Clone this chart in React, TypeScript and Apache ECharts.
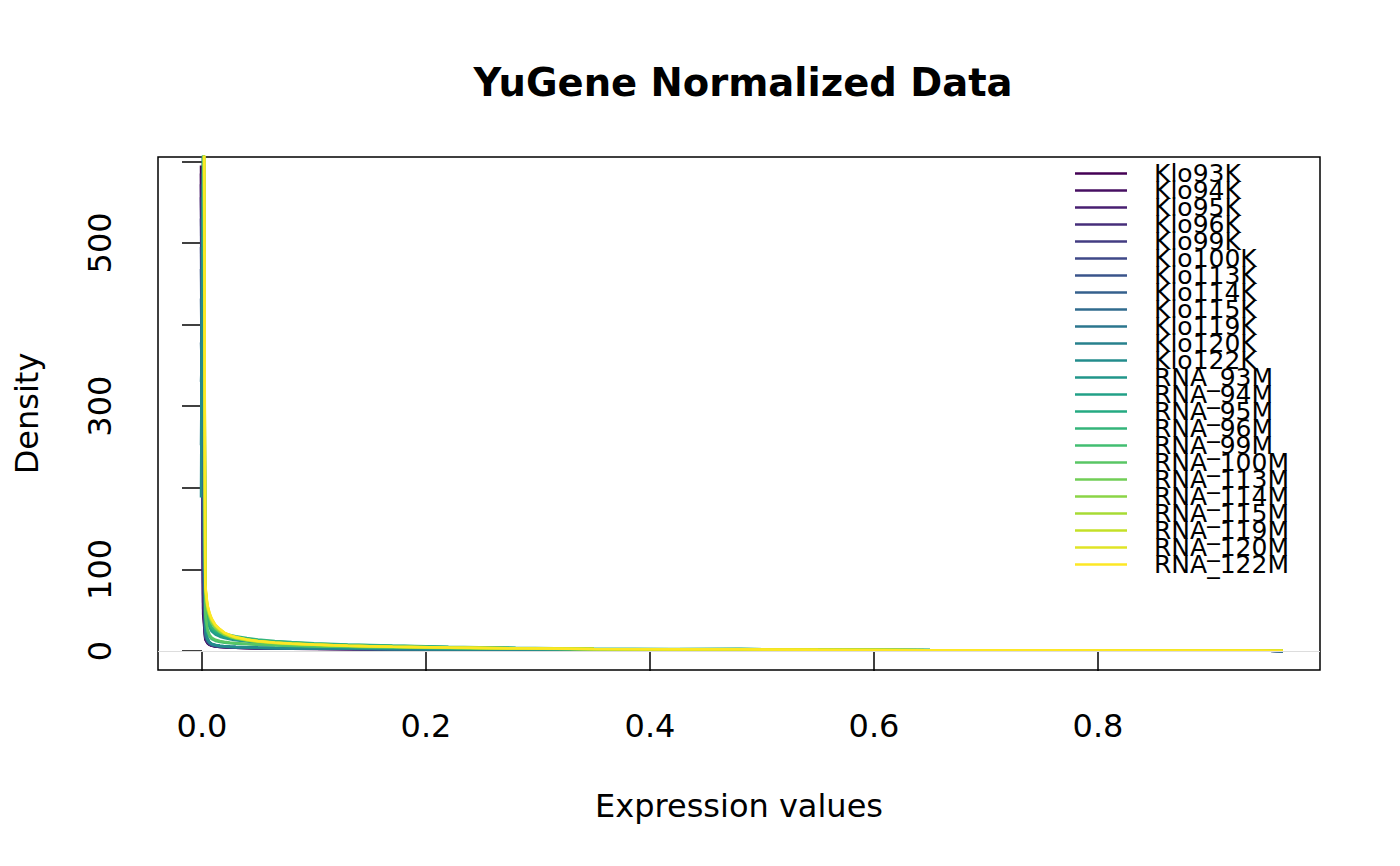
import React, { useEffect, useRef } from "react";
import * as echarts from "echarts";

const X_GRID = [-0.0009, 0.001, 0.0029, 0.0048, 0.0067, 0.0086, 0.012, 0.016, 0.02, 0.025, 0.03, 0.04, 0.05, 0.065, 0.08, 0.1, 0.13, 0.17, 0.22, 0.28, 0.35, 0.42, 0.48, 0.55, 0.65, 0.75, 0.85, 0.93, 0.965];

const SAMPLE_NAMES = ["Klo93K", "Klo94K", "Klo95K", "Klo96K", "Klo99K", "Klo100K", "Klo113K", "Klo114K", "Klo115K", "Klo119K", "Klo120K", "Klo122K", "RNA_93M", "RNA_94M", "RNA_95M", "RNA_96M", "RNA_99M", "RNA_100M", "RNA_113M", "RNA_114M", "RNA_115M", "RNA_119M", "RNA_120M", "RNA_122M"];

const COLORS = ["#440154", "#470F62", "#481F71", "#462E7A", "#433C82", "#3F4988", "#3A548B", "#35608D", "#306B8E", "#2B768E", "#27818D", "#238C8C", "#21968A", "#22A087", "#25AA82", "#34B47A", "#42BE71", "#59C664", "#71CE56", "#8BD546", "#A7DB34", "#C4E027", "#E0E426", "#FDE725"];

const Klo93K = [595, 45, 14, 9.5, 7.4, 6.3, 5.4, 4.9, 4.5, 4.2, 3.9, 3.5, 3.2, 2.9, 2.7, 2.5, 2.2, 1.9, 1.6, 1.3, 1.0, 0.9, 1.0, 0.7, 0.5, 0.4, 0.35, 0.3, 0.1];
const Klo94K = [585, 52, 15, 10, 7.8, 6.6, 5.6, 5.0, 4.6, 4.3, 4.0, 3.6, 3.3, 3.0, 2.8, 2.6, 2.3, 2.0, 1.7, 1.4, 1.1, 1.0, 1.1, 0.8, 0.6, 0.45, 0.4, 0.3, 0.1];
const Klo95K = [572, 60, 16, 10.5, 8.1, 6.8, 5.8, 5.2, 4.8, 4.4, 4.1, 3.7, 3.4, 3.1, 2.9, 2.7, 2.4, 2.1, 1.8, 1.4, 1.1, 1.0, 1.1, 0.8, 0.6, 0.45, 0.4, 0.3, 0.1];
const Klo96K = [556, 70, 17, 11, 8.5, 7.1, 6.0, 5.4, 5.0, 4.6, 4.3, 3.9, 3.5, 3.2, 3.0, 2.8, 2.5, 2.2, 1.8, 1.5, 1.2, 1.0, 1.1, 0.8, 0.6, 0.5, 0.4, 0.3, 0.1];
const Klo99K = [530, 85, 18, 11.5, 8.8, 7.3, 6.2, 5.5, 5.1, 4.7, 4.4, 4.0, 3.6, 3.3, 3.1, 2.9, 2.6, 2.2, 1.9, 1.5, 1.2, 1.1, 1.2, 0.9, 0.6, 0.5, 0.4, 0.35, 0.1];
const Klo100K = [495, 110, 19, 12, 9.0, 7.5, 6.3, 5.6, 5.2, 4.8, 4.5, 4.1, 3.7, 3.4, 3.1, 2.9, 2.6, 2.3, 1.9, 1.6, 1.2, 1.1, 1.2, 0.9, 0.6, 0.5, 0.4, 0.35, 0.1];
const Klo113K = [468, 150, 20, 12.5, 9.3, 7.7, 6.5, 5.8, 5.3, 4.9, 4.6, 4.2, 3.8, 3.5, 3.2, 3.0, 2.7, 2.3, 2.0, 1.6, 1.3, 1.1, 1.2, 0.9, 0.6, 0.5, 0.4, 0.35, 0.1];
const Klo114K = [432, 210, 21, 13, 9.6, 7.9, 6.6, 5.9, 5.4, 5.0, 4.7, 4.3, 3.9, 3.5, 3.3, 3.0, 2.7, 2.4, 2.0, 1.6, 1.3, 1.1, 1.2, 0.9, 0.7, 0.5, 0.4, 0.35, 0.1];
const Klo115K = [378, 290, 22, 13.5, 9.9, 8.1, 6.8, 6.0, 5.5, 5.1, 4.8, 4.3, 3.9, 3.6, 3.3, 3.1, 2.8, 2.4, 2.0, 1.7, 1.3, 1.2, 1.3, 0.9, 0.7, 0.5, 0.45, 0.35, 0.1];
const Klo119K = [330, 400, 24, 14, 10.2, 8.3, 7.0, 6.2, 5.7, 5.2, 4.9, 4.4, 4.0, 3.6, 3.4, 3.1, 2.8, 2.5, 2.1, 1.7, 1.3, 1.2, 1.3, 0.9, 0.7, 0.5, 0.45, 0.35, 0.1];
const Klo120K = [252, 560, 27, 15, 10.6, 8.6, 7.2, 6.4, 5.8, 5.3, 5.0, 4.5, 4.1, 3.7, 3.4, 3.2, 2.9, 2.5, 2.1, 1.7, 1.4, 1.2, 1.3, 1.0, 0.7, 0.55, 0.45, 0.35, 0.1];
const Klo122K = [188, 720, 30, 16, 11, 8.9, 7.4, 6.5, 5.9, 5.4, 5.1, 4.6, 4.2, 3.8, 3.5, 3.2, 2.9, 2.5, 2.1, 1.7, 1.4, 1.2, 1.3, 1.0, 0.7, 0.55, 0.45, 0.35, 0.1];
const RNA_93M = [null, 760, 62, 38, 29, 24, 20, 17.5, 15.8, 14.3, 13.2, 11.6, 10.4, 9.2, 8.3, 7.4, 6.3, 5.3, 4.3, 3.3, 2.4, 2.0, 2.2, 1.5, 1.0, 0.8, 0.7, 0.6, 0.2];
const RNA_94M = [null, 800, 66, 40, 31, 25.5, 21.5, 19, 17.2, 15.6, 14.4, 12.6, 11.3, 10, 9, 8, 6.8, 5.7, 4.6, 3.5, 2.5, 2.1, 2.3, 1.6, 1.1, 0.85, 0.7, 0.6, 0.2];
const RNA_95M = [null, 850, 70, 43, 33, 27.5, 23.5, 21, 19.5, 18, 16.5, 14.5, 13, 11.5, 10.3, 9, 7.6, 6.3, 5.0, 3.8, 2.7, 2.2, 2.4, 1.7, 1.1, 0.9, 0.75, 0.6, 0.2];
const RNA_96M = [null, 880, 72, 45, 35, 29, 25, 22.5, 21, 19.5, 18, 15.8, 14, 12.3, 11, 9.6, 8, 6.6, 5.2, 3.9, 2.8, 2.3, 2.5, 1.7, 1.2, 0.9, 0.75, 0.6, 0.2];
const RNA_99M = [null, 820, 42, 24, 17.5, 14.5, 12.3, 11, 10.2, 9.5, 9, 8.2, 7.5, 6.8, 6.2, 5.6, 4.9, 4.2, 3.5, 2.8, 2.1, 1.8, 1.9, 1.3, 0.9, 0.7, 0.6, 0.5, 0.2];
const RNA_100M = [null, 860, 48, 28, 20, 16.5, 13.8, 12.2, 11.2, 10.4, 9.8, 8.9, 8.1, 7.3, 6.6, 5.9, 5.1, 4.4, 3.6, 2.9, 2.2, 1.8, 2.0, 1.4, 0.9, 0.7, 0.6, 0.5, 0.2];
const RNA_113M = [null, 940, 72, 50, 41, 34, 27.5, 23, 19.8, 17.2, 15.3, 12.8, 11.0, 9.4, 8.4, 7.3, 6.1, 5.0, 4.0, 3.0, 2.3, 1.9, 1.9, 1.4, 1.0, 0.8, 0.7, 0.6, 0.3];
const RNA_114M = [null, 980, 75, 52, 43, 36, 29, 24, 20.5, 17.8, 15.8, 13.2, 11.3, 9.7, 8.6, 7.5, 6.2, 5.1, 4.1, 3.1, 2.3, 1.9, 1.9, 1.4, 1.0, 0.8, 0.7, 0.6, 0.3];
const RNA_115M = [null, 1000, 77, 53, 44, 37, 30, 25, 21.2, 18.3, 16.2, 13.5, 11.6, 9.9, 8.8, 7.6, 6.3, 5.2, 4.1, 3.1, 2.3, 1.9, 2.0, 1.4, 1.0, 0.8, 0.7, 0.6, 0.3];
const RNA_119M = [null, 1030, 79, 55, 45, 38, 31, 25.8, 21.8, 18.8, 16.6, 13.8, 11.8, 10.1, 8.9, 7.7, 6.4, 5.2, 4.2, 3.2, 2.4, 1.9, 2.0, 1.4, 1.0, 0.8, 0.7, 0.6, 0.3];
const RNA_120M = [null, 1060, 80, 56, 46, 39, 31.5, 26.3, 22.2, 19.1, 16.9, 14.0, 12.0, 10.2, 9.0, 7.8, 6.5, 5.3, 4.2, 3.2, 2.4, 2.0, 2.0, 1.4, 1.0, 0.8, 0.7, 0.6, 0.3];
const RNA_122M = [null, 1100, 82, 57, 47, 40, 32, 26.8, 22.6, 19.4, 17.1, 14.2, 12.2, 10.4, 9.1, 7.9, 6.5, 5.3, 4.3, 3.3, 2.4, 2.0, 2.0, 1.5, 1.0, 0.8, 0.7, 0.6, 0.3];

const DENSITIES = [Klo93K, Klo94K, Klo95K, Klo96K, Klo99K, Klo100K, Klo113K, Klo114K, Klo115K, Klo119K, Klo120K, Klo122K, RNA_93M, RNA_94M, RNA_95M, RNA_96M, RNA_99M, RNA_100M, RNA_113M, RNA_114M, RNA_115M, RNA_119M, RNA_120M, RNA_122M];

const X_TICKS = [0, 0.2, 0.4, 0.6, 0.8];
const Y_TICKS = [0, 100, 200, 300, 400, 500, 600];
const Y_LABELS = [0, 100, 300, 500];

const FONT = "DejaVu Sans";

export default function App() {
  const ref = useRef<HTMLDivElement>(null);
  useEffect(() => {
    if (!ref.current) return;
    const chart = echarts.init(ref.current, null, { renderer: "svg" });
    const series: any[] = [
      {
        name: "zero",
        type: "line",
        data: [],
        z: 1,
        silent: true,
        markLine: {
          silent: true,
          symbol: "none",
          label: { show: false },
          lineStyle: { color: "#dddddd", type: "solid", width: 1 },
          data: [{ yAxis: 0 }],
        },
      },
    ];
    DENSITIES.forEach((ys, i) => {
      series.push({
        name: SAMPLE_NAMES[i],
        type: "line",
        symbol: "none",
        showSymbol: false,
        clip: true,
        connectNulls: false,
        z: 2,
        color: COLORS[i],
        itemStyle: { color: COLORS[i] },
        lineStyle: { color: COLORS[i], width: 2.5 },
        data: X_GRID.map((x, j) => [x, ys[j] === null ? "-" : ys[j]]),
      });
    });
    chart.setOption({
      animation: false,
      textStyle: { fontFamily: FONT },
      title: {
        text: "YuGene Normalized Data",
        left: 738,
        top: 58,
        textAlign: "center",
        textStyle: { fontFamily: FONT, fontSize: 38.5, fontWeight: "bold", color: "#000" },
      },
      grid: {
        left: 158,
        top: 157,
        right: 80,
        bottom: 196,
        show: true,
        borderColor: "#000",
        borderWidth: 1.5,
        backgroundColor: "transparent",
      },
      legend: {
        data: SAMPLE_NAMES,
        orient: "vertical",
        left: 1075,
        top: 161,
        icon: "rect",
        itemWidth: 52,
        itemHeight: 2.5,
        itemGap: -8,
        padding: 0,
        selectedMode: false,
        textStyle: {
          fontFamily: FONT,
          fontSize: 25,
          color: "#000",
          padding: [0, 0, 0, 22],
        },
      },
      xAxis: {
        type: "value",
        min: -0.0393,
        max: 0.9982,
        name: "Expression values",
        nameLocation: "middle",
        nameGap: 120,
        nameTextStyle: { fontFamily: FONT, fontSize: 32, color: "#000" },
        axisLine: { show: false },
        splitLine: { show: false },
        axisTick: {
          show: true,
          length: 20,
          customValues: X_TICKS,
          lineStyle: { color: "#000", width: 1.5 },
        },
        axisLabel: {
          show: true,
          customValues: X_TICKS,
          margin: 40,
          fontSize: 32,
          fontFamily: FONT,
          color: "#000",
          formatter: (v: number) => v.toFixed(1),
        },
      },
      yAxis: {
        type: "value",
        min: -23.3,
        max: 605.3,
        name: "Density",
        nameLocation: "middle",
        nameRotate: 90,
        nameGap: 115,
        nameTextStyle: { fontFamily: FONT, fontSize: 32, color: "#000" },
        axisLine: { show: false },
        splitLine: { show: false },
        axisTick: {
          show: true,
          length: 20,
          customValues: Y_TICKS,
          lineStyle: { color: "#000", width: 1.5 },
        },
        axisLabel: {
          show: true,
          customValues: Y_LABELS,
          rotate: 90,
          margin: 42,
          fontSize: 32,
          fontFamily: FONT,
          color: "#000",
          formatter: (v: number) => String(v),
        },
      },
      series,
    });
    return () => chart.dispose();
  }, []);
  return (
    <div
      ref={ref}
      style={{ position: "fixed", left: 0, top: 0, width: 1400, height: 866, background: "#fff" }}
    />
  );
}
